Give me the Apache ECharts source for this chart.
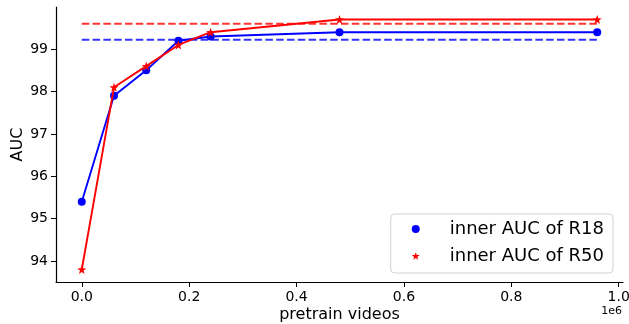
<!DOCTYPE html>
<html>
<head>
<meta charset="utf-8">
<script src="https://cdn.jsdelivr.net/npm/echarts@6/dist/echarts.min.js"></script>
<style>
  html, body { margin: 0; padding: 0; background: #fff; }
  #chart { width: 629px; height: 324px; }
</style>
</head>
<body>
<div id="chart"></div>
<script>
// 预训练视频数量 (单位: 个)
var videos = [0, 60000, 120000, 180000, 240000, 480000, 960000];
var aucR18 = [95.4, 97.9, 98.5, 99.2, 99.3, 99.4, 99.4];
var aucR50 = [93.8, 98.1, 98.6, 99.1, 99.4, 99.7, 99.7];
// 虚线基准
var baseR18 = 99.22;
var baseR50 = 99.6;
var xTicks = [0, 200000, 400000, 600000, 800000, 1000000];
var yTicks = [94, 95, 96, 97, 98, 99];

var FONT = 'DejaVu Sans';
var STAR = 'path://M0,-10 L2.35,-3.24 L9.51,-3.09 L3.8,1.24 L5.88,8.09 L0,4 L-5.88,8.09 L-3.8,1.24 L-9.51,-3.09 L-2.35,-3.24 Z';

function pairs(xs, ys) {
  return xs.map(function (x, i) { return [x, ys[i]]; });
}

var chart = echarts.init(document.getElementById('chart'), null, { renderer: 'canvas' });

chart.setOption({
  animation: false,
  textStyle: { fontFamily: FONT },
  grid: { left: 56, right: 6, top: 7, bottom: 42, containLabel: false, outerBoundsMode: 'none' },
  legend: {
    right: 16,
    bottom: 51,
    orient: 'vertical',
    data: [
      { name: 'inner AUC of R18', icon: 'circle' },
      { name: 'inner AUC of R50', icon: STAR }
    ],
    itemWidth: 8,
    itemHeight: 8,
    itemGap: 7,
    padding: [5, 9, 7, 21],
    borderColor: '#d0d0d0',
    borderWidth: 1,
    borderRadius: 4,
    backgroundColor: 'rgba(255,255,255,0.8)',
    textStyle: { fontSize: 18, lineHeight: 20, color: '#000', fontFamily: FONT, padding: [0, 0, 0, 25] }
  },
  xAxis: {
    type: 'value',
    min: -48000,
    max: 1008000,
    name: 'pretrain videos',
    nameLocation: 'middle',
    nameGap: 25,
    nameMoveOverlap: false,
    nameTextStyle: { fontSize: 16, color: '#000', fontFamily: FONT },
    axisLine: { show: true, onZero: false, lineStyle: { color: '#000', width: 1.2 } },
    axisTick: { show: true, inside: false, length: 5, lineStyle: { color: '#000' }, customValues: xTicks },
    axisLabel: {
      color: '#000', fontSize: 14, margin: 8, fontFamily: FONT,
      customValues: xTicks,
      formatter: function (v) { return (v / 1e6).toFixed(1); }
    },
    splitLine: { show: false }
  },
  yAxis: {
    type: 'value',
    min: 93.505,
    max: 99.995,
    name: 'AUC',
    nameLocation: 'middle',
    nameRotate: 90,
    nameGap: 30,
    nameMoveOverlap: false,
    nameTextStyle: { fontSize: 16, color: '#000', fontFamily: FONT },
    axisLine: { show: true, onZero: false, lineStyle: { color: '#000', width: 1.2 } },
    axisTick: { show: true, inside: false, length: 5, lineStyle: { color: '#000' }, customValues: yTicks },
    axisLabel: {
      color: '#000', fontSize: 14, margin: 8, fontFamily: FONT,
      customValues: yTicks,
      formatter: function (v) { return String(v); }
    },
    splitLine: { show: false }
  },
  graphic: [{
    type: 'text',
    right: 7,
    top: 306,
    style: { text: '1e6', fontSize: 11, fill: '#000', fontFamily: FONT }
  }],
  series: [
    {
      name: 'inner AUC of R18',
      type: 'line',
      data: pairs(videos, aucR18),
      symbol: 'circle',
      symbolSize: 8,
      showAllSymbol: true,
      itemStyle: { color: '#0000ff' },
      lineStyle: { color: '#0000ff', width: 1.9 },
      z: 3
    },
    {
      name: 'inner AUC of R50',
      type: 'line',
      data: pairs(videos, aucR50),
      symbol: STAR,
      symbolSize: 9,
      showAllSymbol: true,
      itemStyle: { color: '#ff0000' },
      lineStyle: { color: '#ff0000', width: 1.9 },
      z: 4
    },
    {
      name: 'base R18',
      type: 'line',
      data: [[videos[0], baseR18], [videos[videos.length - 1], baseR18]],
      symbol: 'none',
      lineStyle: { color: 'rgba(0,0,255,0.8)', width: 2, type: [7.5, 3.3] },
      z: 2
    },
    {
      name: 'base R50',
      type: 'line',
      data: [[videos[0], baseR50], [videos[videos.length - 1], baseR50]],
      symbol: 'none',
      lineStyle: { color: 'rgba(255,0,0,0.8)', width: 2, type: [7.5, 3.3] },
      z: 2
    }
  ]
});
</script>
</body>
</html>
